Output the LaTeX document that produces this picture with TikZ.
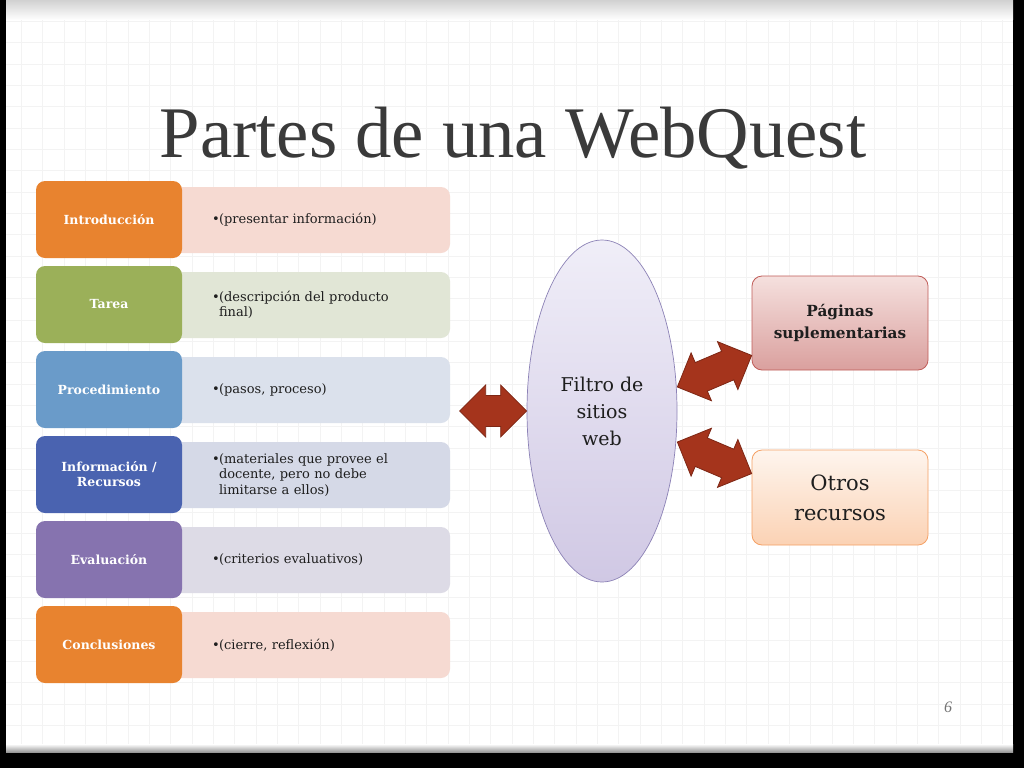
\documentclass[tikz,border=0pt]{standalone}
\usepackage{fontspec}
\setmainfont{Liberation Serif}
\newfontfamily\dvs{DejaVu Serif}
\usetikzlibrary{shapes.geometric,calc}
\definecolor{titlec}{RGB}{58,58,58}
\definecolor{textc}{RGB}{30,30,30}
\definecolor{gridc}{RGB}{243,243,243}
\definecolor{orD}{RGB}{232,131,47}
\definecolor{grD}{RGB}{155,176,89}
\definecolor{lbD}{RGB}{106,155,201}
\definecolor{blD}{RGB}{74,99,176}
\definecolor{puD}{RGB}{134,115,175}
\definecolor{orL}{RGB}{246,218,210}
\definecolor{grL}{RGB}{225,230,214}
\definecolor{lbL}{RGB}{219,225,236}
\definecolor{blL}{RGB}{213,217,231}
\definecolor{puL}{RGB}{221,219,230}
\definecolor{ellT}{RGB}{240,238,248}
\definecolor{ellB}{RGB}{208,200,228}
\definecolor{ellE}{RGB}{140,130,182}
\definecolor{pagT}{RGB}{245,224,222}
\definecolor{pagB}{RGB}{218,160,158}
\definecolor{pagE}{RGB}{192,92,88}
\definecolor{otrT}{RGB}{254,245,238}
\definecolor{otrB}{RGB}{251,210,180}
\definecolor{otrE}{RGB}{245,160,100}
\definecolor{arrF}{RGB}{165,52,28}
\definecolor{arrE}{RGB}{125,38,20}
\newcommand\bul{\makebox[7pt][l]{•}}
\newcommand\ind{\hspace*{7pt}}
\newcommand\dblarr[2]{%
  \path (#1) coordinate (dA) (#2) coordinate (dB);
  \path ($(dA)!26pt!(dB)$) coordinate (hA) ($(dB)!26pt!(dA)$) coordinate (hB);
  \filldraw[arrowstyle] (dA) -- ($(hA)!26pt!90:(dB)$) -- ($(hA)!15.5pt!90:(dB)$)
    -- ($(hB)!15.5pt!-90:(dA)$) -- ($(hB)!26pt!-90:(dA)$) -- (dB)
    -- ($(hB)!26pt!90:(dA)$) -- ($(hB)!15.5pt!90:(dA)$)
    -- ($(hA)!15.5pt!-90:(dB)$) -- ($(hA)!26pt!-90:(dB)$) -- cycle;}
\tikzset{
  darkbox/.style={rounded corners=9pt, minimum width=146pt, minimum height=77pt,
    text=white, font=\dvs\bfseries\fontsize{12.5}{15}\selectfont, align=center, inner sep=2pt},
  lightbox/.style={rounded corners=9pt, minimum height=66pt, text width=186pt,
    inner xsep=52pt, inner ysep=2pt, align=left, font=\dvs\fontsize{13}{15.5}\selectfont, text=textc},
  arrowstyle/.style={fill=arrF, draw=arrE, line width=0.8pt, line join=miter},
  gridline/.style={draw=gridc, line width=0.7pt}
}
\begin{document}
\begin{tikzpicture}[x=1pt,y=-1pt]
\useasboundingbox (0,0) rectangle (1024,768);
% slide frame
\fill[black] (0,0) rectangle (1024,768);
\fill[white] (6,0) rectangle (1013,752);
\foreach \i in {1,...,47} \draw[gridline] (\i*21.333,0) -- (\i*21.333,752);
\foreach \j in {1,...,35} \draw[gridline] (6,\j*21.333) -- (1013,\j*21.333);
\shade[top color=black!18, bottom color=white] (6,0) rectangle (1013,20);
\shade[top color=white, bottom color=black!40] (6,744) rectangle (1013,752);
% title
\node[anchor=base, text=titlec, font=\fontsize{72.7}{80}\selectfont, inner sep=0pt] (title) at (513,157) {Partes de una WebQuest};
% left list
\node[lightbox, fill=orL] (l1) at (305,220) {\bul(presentar información)};
\node[darkbox, fill=orD] (d1) at (109,219.5) {Introducción};
\node[lightbox, fill=grL] (l2) at (305,305) {\bul(descripción del producto\\\ind final)};
\node[darkbox, fill=grD] (d2) at (109,304.5) {Tarea};
\node[lightbox, fill=lbL] (l3) at (305,390) {\bul(pasos, proceso)};
\node[darkbox, fill=lbD] (d3) at (109,389.5) {Procedimiento};
\node[lightbox, fill=blL] (l4) at (305,475) {\bul(materiales que provee el\\\ind docente, pero no debe\\\ind limitarse a ellos)};
\node[darkbox, fill=blD] (d4) at (109,474.5) {Información /\\Recursos};
\node[lightbox, fill=puL] (l5) at (305,560) {\bul(criterios evaluativos)};
\node[darkbox, fill=puD] (d5) at (109,559.5) {Evaluación};
\node[lightbox, fill=orL] (l6) at (305,645) {\bul(cierre, reflexión)};
\node[darkbox, fill=orD] (d6) at (109,644.5) {Conclusiones};
% ellipse
\node[ellipse, minimum width=150pt, minimum height=342pt, top color=ellT, bottom color=ellB,
  draw=ellE, line width=0.7pt, align=center, text=textc, font=\dvs\fontsize{19}{27}\selectfont] (ell) at (602,411) {Filtro de\\sitios\\web};
% right boxes
\node[rounded corners=10pt, minimum width=176pt, minimum height=94pt, top color=pagT, bottom color=pagB,
  draw=pagE, line width=0.8pt, align=center, text=textc, font=\dvs\bfseries\fontsize{15.3}{22}\selectfont] (pag) at (840,323) {Páginas\\suplementarias};
\node[rounded corners=10pt, minimum width=176pt, minimum height=95pt, top color=otrT, bottom color=otrB,
  draw=otrE, line width=0.8pt, align=center, text=textc, font=\dvs\fontsize{21}{30}\selectfont] (otr) at (840,497.5) {Otros\\recursos};
% arrows
\coordinate (lt) at ($(ell.west)+(-67,0)$);
\dblarr{lt}{ell.west}
\dblarr{$(ell.east)+(0,-24)$}{$(pag.south west)+(0,-15)$}
\dblarr{$(ell.east)+(0,31)$}{$(otr.north west)+(0,24)$}
% page number
\node[text=black!55, font=\itshape\fontsize{16}{18}\selectfont] (pn) at (948,707) {6};
\end{tikzpicture}
\end{document}
